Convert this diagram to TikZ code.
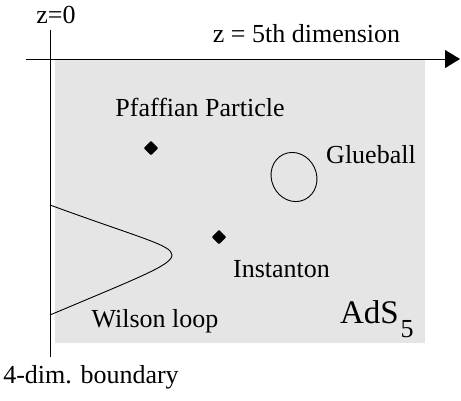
\documentclass[tikz,border=0pt]{standalone}
\usepackage{fontspec}
\setmainfont{Liberation Serif}
\usetikzlibrary{arrows.meta,shapes.geometric}
\definecolor{bggray}{RGB}{229,229,229}
\begin{document}
\begin{tikzpicture}[x=1pt,y=-1pt,
  lbl/.style={anchor=base, inner sep=0pt, font=\fontsize{26}{30}\selectfont},
  biglbl/.style={anchor=base, inner sep=0pt, font=\fontsize{33}{38}\selectfont},
  dot/.style={shape=diamond, fill=black, draw=black, line join=round, line width=1.5pt, inner sep=0pt, minimum size=13pt},
  axis/.style={line width=1pt}]
\useasboundingbox (0,0) rectangle (461,400);
% axes
\coordinate (hstart) at (26,59);
\coordinate (hend) at (460,59);
\coordinate (vtop) at (50,30);
\coordinate (vbot) at (50,357);
\draw[axis, -{Triangle[length=15pt,width=18pt]}] (hstart) -- (hend);
\fill[bggray] (55,59.5) rectangle (425,343);
\draw[axis] (vtop) -- (vbot);
% Wilson loop
\draw[line width=0.9pt] (50,205) .. controls (140,238) and (172,245) .. (172,255)
  .. controls (172,265) and (140,277) .. (50,315);
% Glueball
\draw[line width=0.9pt, rotate around={25:(294,177)}] (294,177) ellipse [x radius=22.5, y radius=25];
% particles
\node[dot] (pf) at (151,148) {};
\node[dot] (inst) at (219,237) {};
% labels
\node[lbl] (z0) at (56,23) {z=0};
\node[lbl] (zdim) at (306.5,42) {z = 5th dimension};
\node[lbl] (pflbl) at (200,116) {Pfaffian Particle};
\node[lbl] (glue) at (371,163) {Glueball};
\node[lbl] (instlbl) at (281.5,277) {Instanton};
\node[lbl] (wilson) at (155,327) {Wilson loop};
\node[biglbl] (ads) at (369.5,323) {AdS};
\node[lbl] (ads5) at (407,337) {5};
\node[lbl] (bdry) at (91,383) {4-dim. boundary};
\end{tikzpicture}
\end{document}
